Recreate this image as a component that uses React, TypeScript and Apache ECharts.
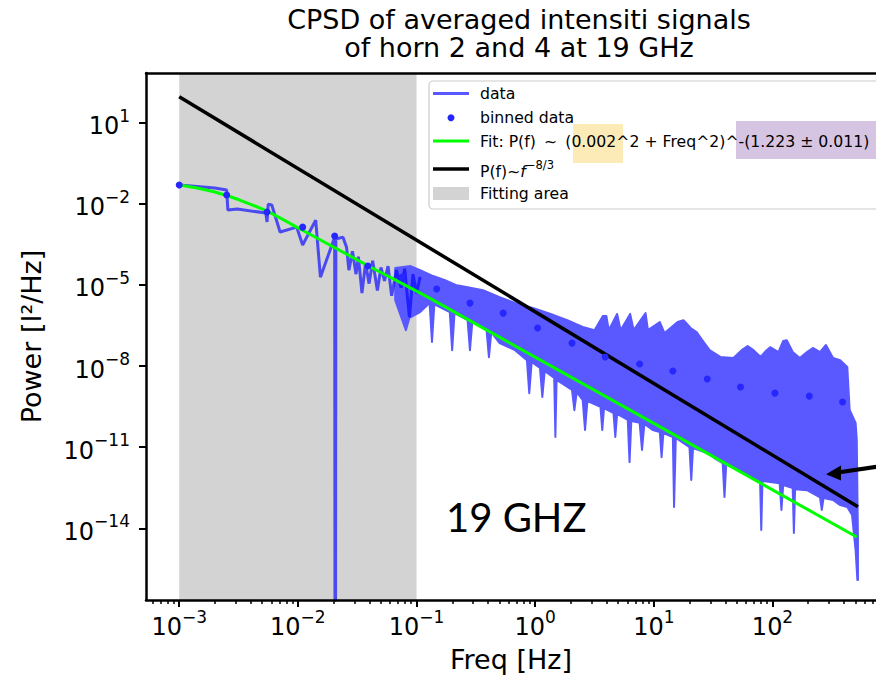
import React, { useEffect, useRef } from 'react';
import * as echarts from 'echarts';

const FONT = "'DejaVu Sans', sans-serif";

// ---- texts ----
const TITLE_TEXT = 'CPSD of averaged intensiti signals\nof horn 2 and 4 at 19 GHz';
const X_NAME = 'Freq [Hz]';
const Y_NAME = 'Power [I²/Hz]';
const NOTE_TEXT = '19 GHZ';

// ---- axes (values are log10 of Hz and of I²/Hz) ----
const X_RANGE = [-3.28, 2.872];
const Y_RANGE = [-16.65, 2.84];
const X_TICKS = [-3, -2, -1, 0, 1, 2];
const Y_TICKS = [-14, -11, -8, -5, -2, 1];
const X_MINOR_DECADES = [-4, -3, -2, -1, 0, 1, 2];
const X_MINOR_MULT = [2, 3, 4, 5, 6, 7, 8, 9];

const FITTING_AREA = [-3, -1];

// ---- data (log10 f, log10 P) ----
const DATA_LOW = [
  [-3.0, -1.3], [-2.7, -1.41], [-2.6, -1.49], [-2.59, -2.23], [-2.51, -2.19],
  [-2.27, -2.34], [-2.26, -2.67], [-2.25, -2.01], [-2.22, -2.04], [-2.15, -3.04],
  [-2.01, -2.86], [-1.96, -3.52], [-1.85, -2.6], [-1.81, -4.71], [-1.69, -3.23],
  [-1.685, -30], [-1.68, -3.3], [-1.62, -3.23], [-1.59, -3.6], [-1.57, -4.45],
  [-1.54, -3.75], [-1.51, -4.6], [-1.49, -3.95], [-1.46, -5.3], [-1.43, -4.2],
  [-1.4, -4.95], [-1.37, -4.1], [-1.33, -5.2], [-1.3, -4.35], [-1.27, -4.85],
  [-1.24, -4.3], [-1.21, -5.4], [-1.17, -4.45], [-1.13, -5.1], [-1.1, -4.4],
  [-1.06, -6.2], [-1.03, -4.6], [-1.0, -5.3], [-0.97, -4.7],
];

const DATA_BAND_TOP = [
  [-1.18, -4.37], [-1.05, -4.3], [-0.97, -4.45], [-0.86, -4.67], [-0.76, -4.82],
  [-0.67, -5.0], [-0.57, -5.08], [-0.44, -5.19], [-0.3, -5.45], [-0.15, -5.7],
  [-0.02, -5.85], [0.13, -6.07], [0.27, -6.3], [0.4, -6.55], [0.5, -6.67],
  [0.57, -6.15], [0.6, -6.15], [0.62, -6.67], [0.69, -6.07], [0.72, -6.67],
  [0.8, -6.07], [0.83, -6.67], [0.93, -6.04], [0.95, -6.67], [1.05, -6.37],
  [1.09, -6.78], [1.2, -6.37], [1.25, -6.3], [1.31, -6.59], [1.36, -6.74],
  [1.42, -7.11], [1.47, -7.41], [1.56, -7.66], [1.67, -7.7], [1.74, -7.41],
  [1.79, -7.26], [1.84, -7.41], [1.9, -7.66], [1.95, -7.41], [1.98, -7.3],
  [2.05, -7.48], [2.09, -7.07], [2.12, -7.04], [2.17, -7.48], [2.23, -7.7],
  [2.29, -7.48], [2.34, -7.33], [2.4, -7.48], [2.45, -7.22], [2.51, -7.7],
  [2.57, -7.78], [2.63, -8.03], [2.65, -9.62], [2.7, -10.1], [2.71, -10.73],
  [2.72, -14.43], [2.72, -15.91],
];

const DATA_BAND_BOTTOM = [
  [-1.18, -5.56], [-1.12, -6.3], [-1.09, -6.67], [-1.06, -6.22], [-0.97, -6.0],
  [-0.89, -5.67], [-0.87, -7.11], [-0.85, -5.72], [-0.72, -6.0], [-0.7, -7.41],
  [-0.68, -6.04], [-0.57, -6.3], [-0.55, -7.41], [-0.53, -6.37], [-0.41, -6.67],
  [-0.39, -7.67], [-0.37, -6.74], [-0.3, -7.15], [-0.17, -7.41], [-0.07, -7.78],
  [-0.05, -9.0], [-0.03, -7.85], [0.04, -8.07], [0.06, -9.14], [0.08, -8.18],
  [0.16, -8.44], [0.17, -10.62], [0.18, -8.51], [0.31, -8.88], [0.33, -9.63],
  [0.35, -8.96], [0.4, -9.25], [0.42, -10.36], [0.44, -9.29], [0.55, -9.51],
  [0.565, -10.36], [0.58, -9.55], [0.66, -9.74], [0.675, -10.62], [0.69, -9.77],
  [0.78, -9.99], [0.795, -11.55], [0.81, -10.03], [0.88, -10.1], [0.9, -11.1],
  [0.92, -10.14], [0.99, -10.36], [1.05, -10.44], [1.065, -11.37], [1.08, -10.48],
  [1.16, -10.62], [1.17, -13.21], [1.185, -10.66], [1.3, -11.0], [1.315, -12.21],
  [1.33, -11.03], [1.45, -11.22], [1.51, -11.4], [1.58, -11.59], [1.595, -12.84],
  [1.61, -11.62], [1.73, -11.85], [1.81, -12.03], [1.895, -12.22], [1.905, -14.06],
  [1.915, -12.25], [2.06, -12.33], [2.075, -13.32], [2.09, -12.4], [2.17, -12.51],
  [2.18, -14.17], [2.19, -12.55], [2.29, -12.59], [2.4, -12.85], [2.415, -13.32],
  [2.43, -12.88], [2.51, -12.95], [2.57, -13.14], [2.63, -13.21], [2.67, -13.51],
  [2.7, -14.8], [2.715, -15.91],
];

const BINNED = [
  [-3.0, -1.3], [-2.6, -1.67], [-2.26, -2.3], [-1.96, -2.86], [-1.69, -3.19],
  [-1.41, -4.3], [-1.12, -4.71], [-0.83, -5.15], [-0.55, -5.67], [-0.27, -6.04],
  [0.02, -6.59], [0.31, -7.15], [0.59, -7.66], [0.88, -7.92], [1.16, -8.18],
  [1.45, -8.48], [1.73, -8.77], [2.02, -9.0], [2.31, -9.11], [2.59, -9.33],
];

const FIT = [
  [-3.0, -1.3], [-2.85, -1.41], [-2.7, -1.56], [-2.59, -1.71], [-2.49, -1.86],
  [-2.26, -2.27], [-1.98, -2.93], [-1.42, -4.26], [-0.86, -5.56], [2.71, -14.32],
];

const SLOPE_8_3 = [[-3.0, 1.96], [2.72, -13.2]];

// ---- colours ----
const DATA_COLOR = 'rgba(0,0,255,0.65)';
const BAND_COLOR = '#5959ff';
const BINNED_COLOR = '#2626ff';
const FIT_COLOR = '#00ff00';
const AREA_COLOR = '#d3d3d3';

const X_MINOR = X_MINOR_DECADES.flatMap((d) => X_MINOR_MULT.map((m) => d + Math.log10(m))).filter(
  (v) => v > X_RANGE[0] && v < X_RANGE[1]
);

const expLabel = (v: number) => {
  const e = Math.round(v);
  return `{b|10}{s|${e < 0 ? '\u2212' + -e : e}}`;
};

const tickRich = {
  b: { fontFamily: FONT, fontSize: 24, color: '#000', lineHeight: 31, verticalAlign: 'bottom' },
  s: { fontFamily: FONT, fontSize: 17, color: '#000', lineHeight: 20, verticalAlign: 'top' },
};

const axisLineStyle = { color: '#000', width: 2.5 };

function buildOption() {
  const txt = (text: string, y: number, extra: any = {}) => ({
    type: 'text',
    z: 103,
    x: 480,
    y,
    style: {
      text,
      fill: '#000',
      fontFamily: FONT,
      fontSize: 15.7,
      verticalAlign: 'middle',
      textVerticalAlign: 'middle',
      ...extra,
    },
  });
  return {
    animation: false,
    backgroundColor: '#fff',
    title: {
      text: TITLE_TEXT,
      left: 519,
      top: 5,
      padding: 0,
      textAlign: 'center',
      textStyle: { fontFamily: FONT, fontSize: 27, fontWeight: 'normal', color: '#000', lineHeight: 28.5 },
    },
    grid: { left: 146, top: 73, right: 0, height: 527, containLabel: false },
    xAxis: [
      {
        type: 'value',
        min: X_RANGE[0],
        max: X_RANGE[1],
        position: 'bottom',
        z: 10,
        axisLine: { show: true, onZero: false, lineStyle: axisLineStyle },
        axisTick: { show: true, customValues: X_TICKS, length: 7, lineStyle: { color: '#000', width: 2 } },
        axisLabel: { customValues: X_TICKS, formatter: expLabel, rich: tickRich, margin: 8 },
        splitLine: { show: false },
        name: X_NAME,
        nameLocation: 'middle',
        nameGap: 46,
        nameTextStyle: { fontFamily: FONT, fontSize: 27, color: '#000' },
      },
      {
        type: 'value',
        min: X_RANGE[0],
        max: X_RANGE[1],
        position: 'bottom',
        z: 10,
        axisLine: { show: false, onZero: false },
        axisTick: { show: true, customValues: X_MINOR, length: 4, lineStyle: { color: '#000', width: 1.5 } },
        axisLabel: { show: false },
        splitLine: { show: false },
      },
      {
        type: 'value',
        min: X_RANGE[0],
        max: X_RANGE[1],
        position: 'top',
        z: 10,
        axisLine: { show: true, onZero: false, lineStyle: axisLineStyle },
        axisTick: { show: false },
        axisLabel: { show: false },
        splitLine: { show: false },
      },
    ],
    yAxis: [
      {
        type: 'value',
        min: Y_RANGE[0],
        max: Y_RANGE[1],
        z: 10,
        axisLine: { show: true, onZero: false, lineStyle: axisLineStyle },
        axisTick: { show: true, customValues: Y_TICKS, length: 7, lineStyle: { color: '#000', width: 2 } },
        axisLabel: { customValues: Y_TICKS, formatter: expLabel, rich: tickRich, margin: 16 },
        splitLine: { show: false },
        name: Y_NAME,
        nameLocation: 'middle',
        nameGap: 101,
        nameTextStyle: { fontFamily: FONT, fontSize: 27, color: '#000' },
      },
    ],
    series: [
      {
        name: 'data',
        type: 'custom',
        coordinateSystem: 'cartesian2d',
        z: 2,
        silent: true,
        data: [DATA_BAND_TOP[0]],
        renderItem: (_p: any, api: any) => {
          const pts = DATA_BAND_TOP.map((p) => api.coord(p)).concat(
            DATA_BAND_BOTTOM.slice()
              .reverse()
              .map((p) => api.coord(p))
          );
          return {
            type: 'polygon',
            shape: { points: pts },
            style: { fill: BAND_COLOR, stroke: BAND_COLOR, lineWidth: 2, lineJoin: 'round' },
          };
        },
        markArea: {
          silent: true,
          z: 1,
          itemStyle: { color: AREA_COLOR, opacity: 1 },
          data: [[{ xAxis: FITTING_AREA[0] }, { xAxis: FITTING_AREA[1] }]],
        },
      },
      {
        name: 'data',
        type: 'line',
        z: 3,
        data: DATA_LOW,
        showSymbol: false,
        clip: true,
        lineStyle: { color: DATA_COLOR, width: 3 },
      },
      {
        name: 'fit',
        type: 'line',
        z: 4,
        data: FIT,
        showSymbol: false,
        smooth: 0.2,
        lineStyle: { color: FIT_COLOR, width: 3 },
      },
      {
        name: 'P(f)~f^-8/3',
        type: 'line',
        z: 5,
        data: SLOPE_8_3,
        showSymbol: false,
        lineStyle: { color: '#000', width: 3.5 },
      },
      {
        name: 'binned data',
        type: 'scatter',
        z: 6,
        data: BINNED,
        symbolSize: 7,
        itemStyle: { color: BINNED_COLOR, opacity: 1 },
      },
    ],
    graphic: {
      elements: [
        { type: 'rect', z: 100, shape: { x: 429, y: 81, width: 470, height: 128, r: 4 }, style: { fill: 'rgba(255,255,255,0.85)', stroke: '#cccccc', lineWidth: 1.2 } },
        { type: 'rect', z: 101, shape: { x: 573, y: 124, width: 50, height: 39 }, style: { fill: '#fdebb7' } },
        { type: 'rect', z: 101, shape: { x: 736, y: 121, width: 160, height: 38 }, style: { fill: '#d6c5e2' } },
        { type: 'line', z: 102, shape: { x1: 433, y1: 93.5, x2: 469, y2: 93.5 }, style: { stroke: DATA_COLOR, lineWidth: 3 } },
        { type: 'circle', z: 102, shape: { cx: 451, cy: 117.7, r: 3.5 }, style: { fill: BINNED_COLOR } },
        { type: 'line', z: 102, shape: { x1: 433, y1: 141, x2: 469, y2: 141 }, style: { stroke: FIT_COLOR, lineWidth: 3 } },
        { type: 'line', z: 102, shape: { x1: 433, y1: 169, x2: 469, y2: 169 }, style: { stroke: '#000', lineWidth: 3.5 } },
        { type: 'rect', z: 102, shape: { x: 433, y: 187, width: 36, height: 13 }, style: { fill: AREA_COLOR } },
        txt('data', 93.5),
        txt('binned data', 117.7),
        txt('Fit: P(f)\u2009 \u223c \u2009(0.002^2 + Freq^2)^-(1.223 \u00b1 0.011)', 141),
        txt('{a|P(f)\u223c}{i|f}{s|\u22128/3}', 169, {
          rich: {
            a: { fontFamily: FONT, fontSize: 15.7, fill: '#000', lineHeight: 20, verticalAlign: 'bottom' },
            i: { fontFamily: FONT, fontSize: 15.7, fontStyle: 'italic', fill: '#000', lineHeight: 20, verticalAlign: 'bottom' },
            s: { fontFamily: FONT, fontSize: 11.5, fill: '#000', lineHeight: 12, verticalAlign: 'top' },
          },
        }),
        txt('Fitting area', 193.5),
        {
          type: 'text',
          z: 103,
          x: 446,
          y: 517,
          style: { text: NOTE_TEXT, fill: '#000', fontFamily: 'Lato, sans-serif', fontSize: 40, verticalAlign: 'middle', textVerticalAlign: 'middle' },
        },
        { type: 'line', z: 103, shape: { x1: 882, y1: 466, x2: 836, y2: 472.7 }, style: { stroke: '#000', lineWidth: 4 } },
        { type: 'polygon', z: 103, shape: { points: [[826, 474.3], [841, 465.5], [841, 480.5]] }, style: { fill: '#000' } },
      ],
    },
  };
}

export default function App() {
  const ref = useRef<HTMLDivElement>(null);
  useEffect(() => {
    document.body.style.margin = '0';
    const chart = echarts.init(ref.current!, null, { renderer: 'svg' });
    chart.setOption(buildOption() as any);
    return () => chart.dispose();
  }, []);
  return <div ref={ref} style={{ width: 876, height: 679 }} />;
}
